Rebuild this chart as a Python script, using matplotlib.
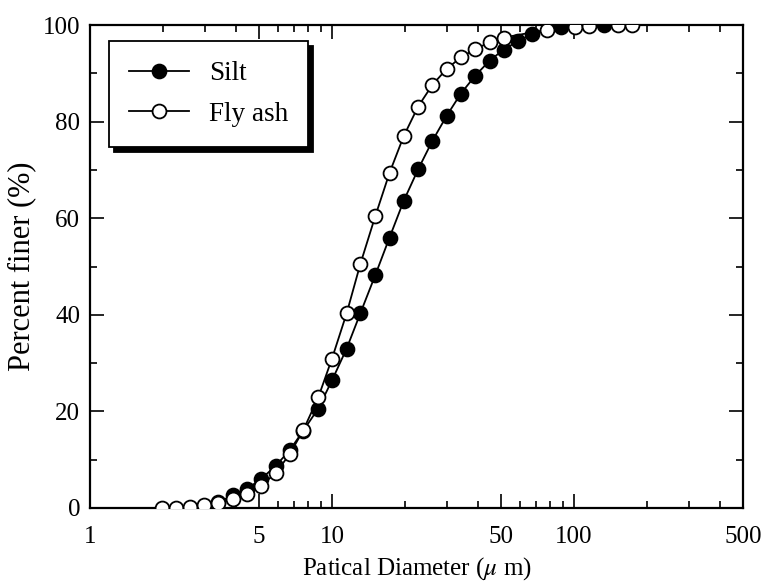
import matplotlib
matplotlib.use("Agg")
import matplotlib.pyplot as plt
from matplotlib.ticker import FixedLocator, NullFormatter, FixedFormatter

plt.rcParams['font.family'] = ['Liberation Serif', 'DejaVu Serif']
plt.rcParams['mathtext.fontset'] = 'stix'

# Silt
silt_d = [2.96, 3.39, 3.89, 4.44, 5.09, 5.85, 6.70, 7.61, 8.78, 10.0, 11.5, 13.1,
          15.1, 17.3, 19.8, 22.7, 26.0, 29.8, 34.1, 39.1, 44.8, 51.2, 58.9, 67.3,
          88.4, 133.0]
silt_p = [0.5, 1.2, 2.6, 3.9, 6.0, 8.7, 12.0, 16.0, 20.6, 26.4, 33.0, 40.3,
          48.2, 56.0, 63.6, 70.1, 76.0, 81.2, 85.8, 89.5, 92.6, 94.9, 96.7, 98.1,
          99.5, 100.0]

# Fly ash
fly_d = [1.98, 2.26, 2.59, 2.96, 3.39, 3.89, 4.44, 5.09, 5.85, 6.70, 7.61, 8.78,
         10.0, 11.5, 13.1, 15.1, 17.3, 19.8, 22.7, 26.0, 29.8, 34.1, 39.1, 44.8,
         51.2, 77.1, 101.0, 116.0, 152.0, 174.0]
fly_p = [0.05, 0.1, 0.3, 0.6, 1.0, 1.8, 2.9, 4.6, 7.2, 11.2, 16.1, 22.9,
         30.9, 40.3, 50.5, 60.4, 69.4, 77.0, 83.1, 87.6, 90.9, 93.3, 95.0, 96.4,
         97.4, 99.0, 99.6, 99.8, 100.0, 100.0]

x_major = [1, 5, 10, 50, 100, 500]
x_major_labels = ['1', '5', '10', '50', '100', '500']
x_minor = [2, 3, 4, 6, 7, 8, 9, 20, 30, 40, 60, 70, 80, 90, 200, 300, 400]
y_major = [0, 20, 40, 60, 80, 100]
y_minor = [10, 30, 50, 70, 90]

fig = plt.figure(figsize=(7.67, 5.84), dpi=100)
ax = fig.add_axes([90/767, 1-508/584, 653/767, 483/584])

ax.plot(silt_d, silt_p, '-o', color='black', lw=1.3, markersize=10,
        markerfacecolor='black', markeredgecolor='black', markeredgewidth=1.3,
        label='Silt', zorder=3)
ax.plot(fly_d, fly_p, '-o', color='black', lw=1.3, markersize=10,
        markerfacecolor='white', markeredgecolor='black', markeredgewidth=1.3,
        label='Fly ash', zorder=4)

ax.set_xscale('log')
ax.set_xlim(1, 500)
ax.set_ylim(0, 100)
ax.xaxis.set_major_locator(FixedLocator(x_major))
ax.xaxis.set_major_formatter(FixedFormatter(x_major_labels))
ax.xaxis.set_minor_locator(FixedLocator(x_minor))
ax.xaxis.set_minor_formatter(NullFormatter())
ax.yaxis.set_major_locator(FixedLocator(y_major))
ax.yaxis.set_minor_locator(FixedLocator(y_minor))

ax.tick_params(which='both', direction='in', top=True, right=True, width=1.2,
               labelsize=18, colors='black')
ax.tick_params(which='major', length=10)
ax.tick_params(which='minor', length=5)
ax.tick_params(axis='x', which='major', pad=13)
ax.tick_params(axis='y', which='major', pad=7)
for s in ax.spines.values():
    s.set_linewidth(1.6)

ax.set_xlabel(r'Patical Diameter ($\mu$ m)', fontsize=18, labelpad=5)
ax.set_ylabel('Percent finer (%)', fontsize=22, labelpad=5)

leg = ax.legend(loc='upper left', bbox_to_anchor=(0.029, 0.967), borderaxespad=0,
                fontsize=19.5, frameon=True, fancybox=False, handlelength=2.2,
                handletextpad=0.74, labelspacing=0.58, borderpad=0.75,
                shadow={'ox': 3.5, 'oy': -3.5, 'color': 'black', 'alpha': 1})
leg.get_frame().set_edgecolor('black')
leg.get_frame().set_linewidth(1.3)
leg.get_frame().set_alpha(1)

fig.savefig('out.png', dpi=100)
